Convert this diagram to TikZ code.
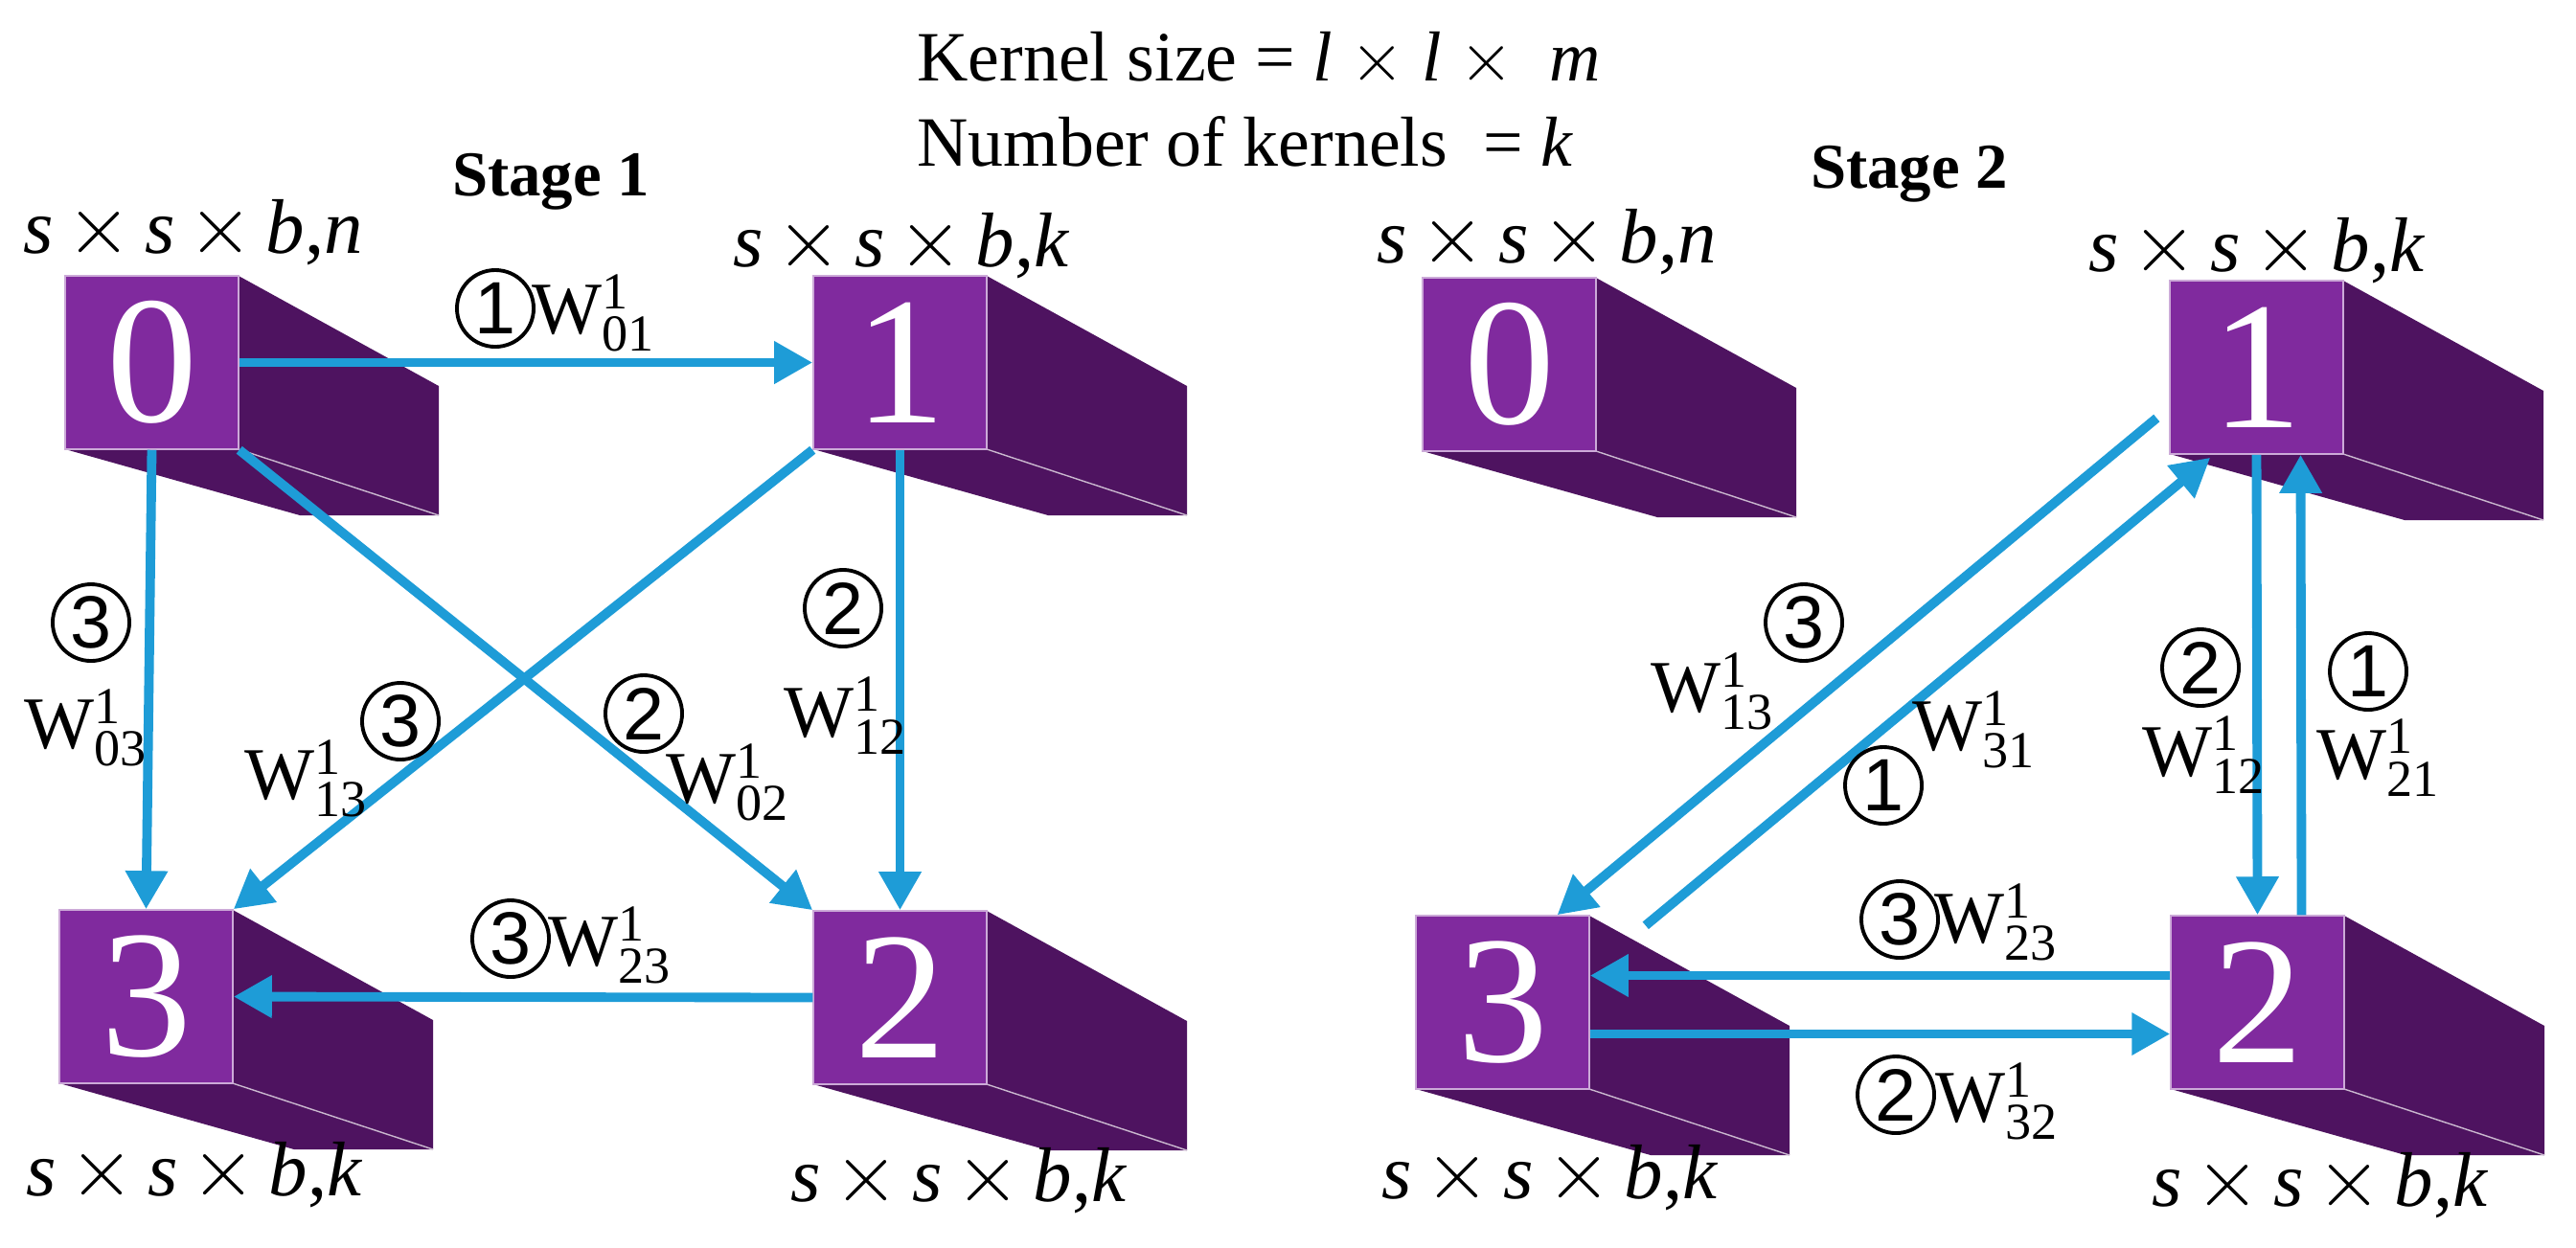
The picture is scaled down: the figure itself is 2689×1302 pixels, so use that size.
\documentclass[tikz,border=0pt]{standalone}
\usepackage{fontspec}
\setmainfont{Liberation Serif}
\setmathrm{Liberation Serif}
\newfontfamily\circfont{Liberation Sans}
\usetikzlibrary{arrows.meta,calc}

\definecolor{frontpurple}{RGB}{128,42,158}
\definecolor{sidepurple}{RGB}{78,19,96}
\definecolor{linkblue}{RGB}{30,156,215}

% one cube: name, front top-left corner, digit
\newcommand{\tcube}[3]{
\begin{scope}[shift={(#2)}]
\fill[sidepurple] (181,0) -- (390,115) -- (390,250) -- (245,250) -- (0,181) -- (181,181) -- cycle;
\draw[white!70!sidepurple,thin] (181,181) -- (390,250);
\node[front] (#1) at (90.5,90.5) {#3};
\end{scope}
}
% size text
\newcommand{\sdim}[1]{\textit{s}\,$\times$\,\textit{s}\,$\times$\,\textit{b},\textit{#1}}
% weight text
\newcommand{\wt}[1]{W$^{\mathrm{1}}_{\mathrm{#1}}$}

\tikzset{
  front/.style={fill=frontpurple,draw=white!60!frontpurple,thin,minimum size=1.81cm,inner sep=0pt,
    text=white,font=\fontsize{54}{54}\selectfont},
  link/.style={draw=linkblue,line width=2.8pt,-{Triangle[length=0.4cm,width=0.42cm]}},
  circ/.style={circle,draw,line width=1.1pt,minimum size=0.8cm,inner sep=0pt,
    font=\circfont\fontsize{22}{22}\selectfont},
  wlab/.style={font=\fontsize{22}{22}\selectfont},
  dimlab/.style={font=\fontsize{23}{23}\selectfont},
  stage/.style={font=\fontsize{19}{19}\selectfont\bfseries},
  title/.style={font=\fontsize{21}{21}\selectfont,anchor=west}
}

\begin{document}
\begin{tikzpicture}[x=0.01cm,y=-0.01cm]
\useasboundingbox (0,0) rectangle (2689,1302);

% heading
\node[title] (ksize) at (945,62) {Kernel size = \textit{l} $\times$ \textit{l} $\times$\ \ \textit{m}};
\node[title] (knum) at (945,148) {Number of kernels\ \ = \textit{k}};
\node[stage] (st1) at (575,190) {Stage 1};
\node[stage] (st2) at (1993,182) {Stage 2};

% stage 1 cubes
\tcube{a0}{68,288}{0}
\tcube{a1}{849,288}{1}
\tcube{a2}{849,951}{2}
\tcube{a3}{62,950}{3}

% stage 2 cubes
\tcube{b0}{1485,290}{0}
\tcube{b1}{2265,293}{1}
\tcube{b2}{2266,956}{2}
\tcube{b3}{1478,956}{3}

% sizes
\node[dimlab] (da0) at (202,243) {\sdim{n}};
\node[dimlab] (da1) at (941,257) {\sdim{k}};
\node[dimlab] (da3) at (203,1227) {\sdim{k}};
\node[dimlab] (da2) at (1001,1233) {\sdim{k}};
\node[dimlab] (db0) at (1615,253) {\sdim{n}};
\node[dimlab] (db1) at (2356,262) {\sdim{k}};
\node[dimlab] (db3) at (1618,1230) {\sdim{k}};
\node[dimlab] (db2) at (2422,1238) {\sdim{k}};

% stage 1 links
\draw[link] (a0.east) -- (a1.west);
\draw[link] (a0.south) -- (a3.north);
\draw[link] (a0.south east) -- (a2.north west);
\draw[link] (a1.south west) -- (a3.north east);
\draw[link] (a1.south) -- (a2.north);
\draw[link] (a2.west) -- (a3.east);

% stage 1 labels
\node[circ] (c01) at (517,322) {1};
\node[wlab] (w01) at (620,327) {\wt{01}};
\node[circ] (c03) at (95,650) {3};
\node[wlab] (w03) at (90,760) {\wt{03}};
\node[circ] (c13) at (418,753) {3};
\node[wlab] (w13) at (320,813) {\wt{13}};
\node[circ] (c02) at (672,745) {2};
\node[wlab] (w02) at (760,817) {\wt{02}};
\node[circ] (c12) at (880,635) {2};
\node[wlab] (w12) at (883,747) {\wt{12}};
\node[circ] (c23) at (533,980) {3};
\node[wlab] (w23) at (637,987) {\wt{23}};

% stage 2 links
\draw[link] ($(b1.west)+(-13,53)$) -- ($(b3.north)+(57,0)$);
\draw[link] ($(b3.north east)+(58,11)$) -- ($(b1.south west)+(43,3)$);
\draw[link] (b1.south) -- (b2.north);
\draw[link] ($(b2.north)+(46,0)$) -- ($(b1.south)+(46,0)$);
\draw[link] ($(b2.west)+(0,-28)$) -- ($(b3.east)+(0,-28)$);
\draw[link] ($(b3.east)+(0,33)$) -- ($(b2.west)+(0,33)$);

% stage 2 labels
\node[circ] (d13) at (1883,650) {3};
\node[wlab] (v13) at (1788,722) {\wt{13}};
\node[circ] (d31) at (1966,820) {1};
\node[wlab] (v31) at (2061,762) {\wt{31}};
\node[circ] (d12) at (2297,697) {2};
\node[wlab] (v12) at (2301,788) {\wt{12}};
\node[circ] (d21) at (2472,701) {1};
\node[wlab] (v21) at (2483,791) {\wt{21}};
\node[circ] (d23) at (1983,960) {3};
\node[wlab] (v23) at (2084,963) {\wt{23}};
\node[circ] (d32) at (1979,1143) {2};
\node[wlab] (v32) at (2085,1150) {\wt{32}};

\end{tikzpicture}
\end{document}
